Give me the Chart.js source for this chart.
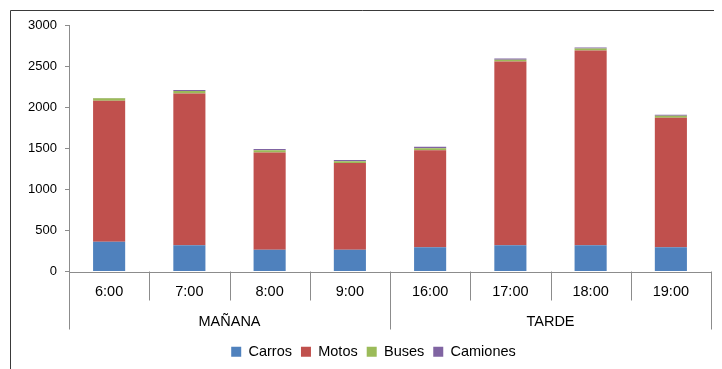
<!DOCTYPE html>
<html>
<head>
<meta charset="utf-8">
<script src="https://cdn.jsdelivr.net/npm/chart.js@4.4.1/dist/chart.umd.min.js"></script>
<style>
  html, body { margin: 0; padding: 0; background: #fff; }
  #wrap { width: 722px; height: 369px; position: relative; }
</style>
</head>
<body>
<div id="wrap"><canvas id="c" width="722" height="369"></canvas></div>
<script>
// Vehicle counts per hour, grouped into morning and afternoon periods
const categories = ['6:00', '7:00', '8:00', '9:00', '16:00', '17:00', '18:00', '19:00'];
const groups = ['MAÑANA', 'TARDE'];
const groupSize = 4;

const carros   = [363, 318, 265, 265, 294, 318, 318, 294];
const motos    = [1716, 1847, 1182, 1055, 1182, 2238, 2372, 1577];
const buses    = [28, 33, 29, 22, 25, 21, 25, 25];
const camiones = [5, 12, 16, 15, 16, 16, 12, 12];

const yMax = 3000;
const yStep = 500;

const FONT = '"Liberation Sans", Arial, sans-serif';
const AXIS_GREY = '#8c8c8c';

// Draws the frame, the x-axis baseline, category separators and the period labels
const groupAxisPlugin = {
  id: 'groupAxis',
  afterLayout(chart) {
    // nudge the legend row to the right, under the plot
    const lg = chart.legend;
    if (lg) { lg.left += 18; lg.right += 18; }
  },
  afterDraw(chart) {
    const { ctx, chartArea } = chart;
    const x = chart.scales.x;
    const n = categories.length;
    const base = chartArea.bottom;
    const half = (x.getPixelForValue(1) - x.getPixelForValue(0)) / 2;

    ctx.save();
    // outer frame (left and top edges)
    ctx.strokeStyle = '#3a3a3a';
    ctx.lineWidth = 1;
    ctx.beginPath();
    ctx.moveTo(10.5, 369);
    ctx.lineTo(10.5, 10.5);
    ctx.lineTo(714, 10.5);
    ctx.stroke();

    // horizontal axis line
    ctx.strokeStyle = AXIS_GREY;
    ctx.beginPath();
    ctx.moveTo(chartArea.left, Math.round(base) + 0.5);
    ctx.lineTo(chartArea.right, Math.round(base) + 0.5);
    ctx.stroke();

    // separators between categories; longer ones close each period
    for (let i = 0; i <= n; i++) {
      const px = i < n ? x.getPixelForValue(i) - half : x.getPixelForValue(n - 1) + half;
      const isGroupEdge = i % groupSize === 0;
      const len = isGroupEdge ? 58 : 29;
      const xx = Math.round(px) + 0.5;
      ctx.beginPath();
      ctx.moveTo(xx, base);
      ctx.lineTo(xx, base + len);
      ctx.stroke();
    }

    // period labels centred under their categories
    ctx.fillStyle = '#000';
    ctx.font = '14.5px ' + FONT;
    ctx.textAlign = 'center';
    ctx.textBaseline = 'middle';
    groups.forEach((g, gi) => {
      const first = x.getPixelForValue(gi * groupSize) - half;
      const last = x.getPixelForValue(gi * groupSize + groupSize - 1) + half;
      ctx.fillText(g, (first + last) / 2, base + 50);
    });
    ctx.restore();
  }
};

const ds = (label, data, color) => ({
  label, data,
  backgroundColor: color,
  borderWidth: 0,
  categoryPercentage: 0.8,
  barPercentage: 0.5
});

new Chart(document.getElementById('c'), {
  type: 'bar',
  data: {
    labels: categories,
    datasets: [
      ds('Carros', carros, '#4F81BD'),
      ds('Motos', motos, '#C0504D'),
      ds('Buses', buses, '#9BBB59'),
      ds('Camiones', camiones, '#8064A2')
    ]
  },
  options: {
    responsive: false,
    animation: false,
    devicePixelRatio: 1,
    layout: { padding: { top: 25, right: 11, bottom: 0, left: 0 } },
    plugins: {
      legend: {
        position: 'bottom',
        labels: {
          boxWidth: 10,
          boxHeight: 10,
          padding: 9,
          color: '#000',
          font: { family: FONT, size: 14.5 }
        }
      },
      tooltip: { enabled: false }
    },
    scales: {
      x: {
        stacked: true,
        grid: { display: false },
        border: { display: false },
        ticks: { color: '#000', padding: 4, font: { family: FONT, size: 14.5 } },
        afterFit(scale) { scale.height = 64; }
      },
      y: {
        stacked: true,
        min: 0,
        max: yMax,
        grid: {
          display: true,
          drawOnChartArea: false,
          drawTicks: true,
          tickLength: 4,
          color: AXIS_GREY
        },
        border: { display: true, color: AXIS_GREY },
        ticks: {
          stepSize: yStep,
          padding: 8,
          color: '#000',
          font: { family: FONT, size: 13 },
          callback: (v) => String(v)
        },
        afterFit(scale) { scale.width = 69; }
      }
    }
  },
  plugins: [groupAxisPlugin]
});
</script>
</body>
</html>
